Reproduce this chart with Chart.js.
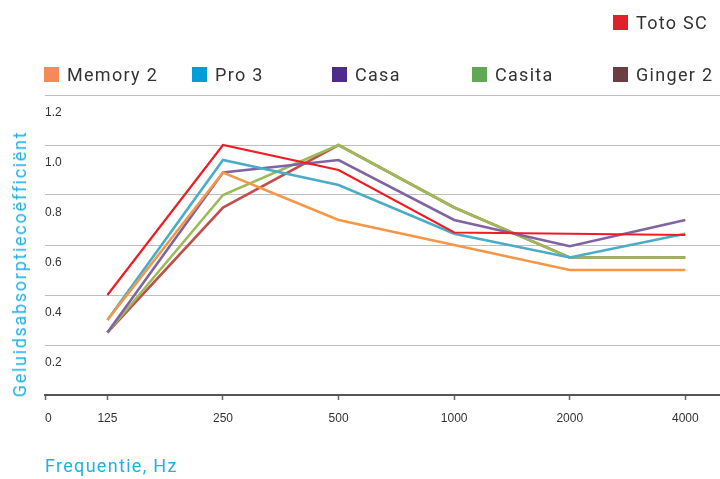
<!DOCTYPE html>
<html>
<head>
<meta charset="utf-8">
<script src="https://cdn.jsdelivr.net/npm/chart.js@4/dist/chart.umd.min.js"></script>
<style>
  body { margin: 0; background: #fff; }
  #wrap { position: relative; width: 720px; height: 479px; overflow: hidden; }
  #chart { position: absolute; left: 0; top: 0; }
  .txt { position: absolute; font-family: Roboto, sans-serif; font-size: 18px; line-height: 18px; letter-spacing: 1.3px; white-space: nowrap; }
  .lg-box { position: absolute; width: 15px; height: 15px; }
  .lg-text { color: #333; }
  .title { color: #1fb0e8; }
</style>
</head>
<body>
<div id="wrap">
  <canvas id="chart" width="720" height="479"></canvas>
  <div id="ytitle" class="txt title" style="left:19.5px;top:264px;letter-spacing:1.7px;transform:translate(-50%,-50%) rotate(-90deg);">Geluidsabsorptiecoëfficiënt</div>
  <div class="txt title" style="left:45px;top:457px;">Frequentie, Hz</div>
</div>
<script>
// frequenties (Hz) en absorptiewaarden per product
const freqLabels = ['125', '250', '500', '1000', '2000', '4000'];
const yTicks     = [0, 0.2, 0.4, 0.6, 0.8, 1.0, 1.2];

const memory2 = [0.30, 0.89, 0.70, 0.60, 0.50, 0.50];
const pro3    = [0.30, 0.94, 0.84, 0.645, 0.55, 0.645];
const casa    = [0.25, 0.89, 0.94, 0.70, 0.595, 0.70];
const casita  = [0.25, 0.80, 1.00, 0.75, 0.55, 0.55];
const ginger2 = [0.25, 0.75, 1.00, 0.75, 0.55, 0.55];
const totoSC  = [0.40, 1.00, 0.90, 0.65, 0.645, 0.64];

// x-as loopt iets voor 125 en iets na 4000
const X_MIN = 0.46, X_MAX = 6.3;

const pts = arr => arr.map((v, i) => ({ x: i + 1, y: v }));

function ds(label, data, line, box, order, width) {
  return { label, data: pts(data), borderColor: line, legendColor: box, order,
           borderWidth: width || 2.6, pointRadius: 0, tension: 0, fill: false };
}

const datasets = [
  ds('Memory 2', memory2, '#f79646', '#f48a58', 1),
  ds('Pro 3',    pro3,    '#4bacc6', '#009ed8', 2),
  ds('Casa',     casa,    '#8064a2', '#4e2b8e', 3),
  ds('Casita',   casita,  '#9bbb59', '#60a856', 4),
  ds('Ginger 2', ginger2, '#c0504d', '#6e3c43', 5),
  ds('Toto SC',  totoSC,  '#ee1d25', '#e2202a', 0, 2.2)
];

const chart = new Chart(document.getElementById('chart').getContext('2d'), {
  type: 'line',
  data: { datasets },
  options: {
    responsive: false,
    animation: false,
    layout: { padding: { left: 45, top: 95, right: 0, bottom: 0 } },
    plugins: { legend: { display: false }, tooltip: { enabled: false } },
    scales: {
      x: {
        type: 'linear', min: X_MIN, max: X_MAX,
        afterBuildTicks: s => {
          s.ticks = [X_MIN, ...freqLabels.map((_, i) => i + 1), X_MAX].map(v => ({ value: v }));
        },
        afterFit: s => { s.height = 84; s.paddingLeft = 0; s.paddingRight = 0; },
        border: { display: true, color: '#555', width: 2 },
        grid: {
          drawOnChartArea: false, drawTicks: true, tickLength: 5, tickWidth: 1.5,
          tickColor: c => (c.index === freqLabels.length + 1 ? 'rgba(0,0,0,0)' : '#666')
        },
        ticks: {
          autoSkip: false, maxRotation: 0, align: 'inner', padding: 11,
          color: '#333', font: { family: 'Liberation Sans', size: 12 },
          callback: (v, i) => (i === 0 ? '0' : (freqLabels[i - 1] || ''))
        }
      },
      y: {
        min: 0, max: 1.2,
        afterBuildTicks: s => { s.ticks = yTicks.map(v => ({ value: v })); },
        afterFit: s => { s.width = 0; },
        border: { display: false },
        grid: { color: '#bfbfbf', lineWidth: 1, drawTicks: false },
        ticks: {
          mirror: true, padding: 0, labelOffset: 18,
          color: '#333', font: { family: 'Liberation Sans', size: 12 },
          callback: v => (v === 0 ? '' : v.toFixed(1))
        }
      }
    }
  }
});

// legenda: Toto SC apart op de eerste rij, de rest op rij twee
const slots = { 'Toto SC': [613, 15], 'Memory 2': [44, 67], 'Pro 3': [192, 67],
                'Casa': [332, 67], 'Casita': [472, 67], 'Ginger 2': [613, 67] };
const wrap = document.getElementById('wrap');
chart.data.datasets.forEach(d => {
  const [x, y] = slots[d.label];
  const box = document.createElement('div');
  box.className = 'lg-box';
  box.style.left = x + 'px';
  box.style.top = y + 'px';
  box.style.background = d.legendColor;
  const t = document.createElement('div');
  t.className = 'txt lg-text';
  t.style.left = (x + 23) + 'px';
  t.style.top = (y - 1) + 'px';
  t.textContent = d.label;
  wrap.appendChild(box);
  wrap.appendChild(t);
});
</script>
</body>
</html>
